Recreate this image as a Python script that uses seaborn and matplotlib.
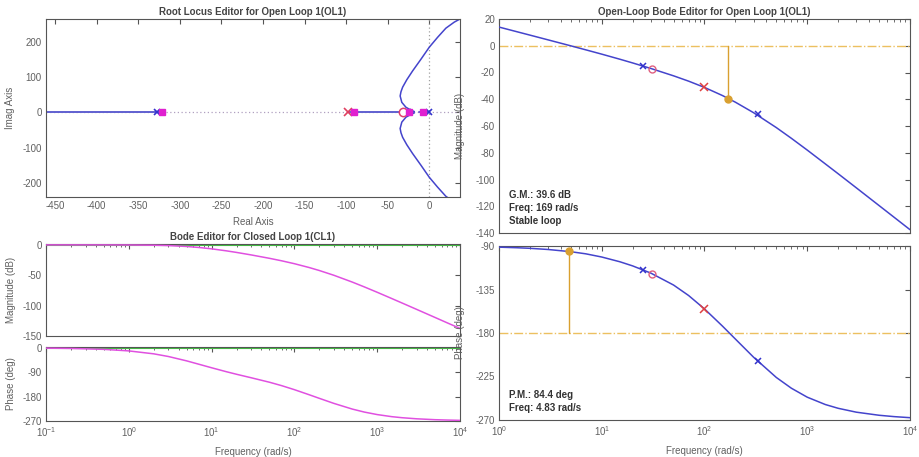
import numpy as np
import pandas as pd
import matplotlib
matplotlib.use("Agg")
import matplotlib.pyplot as plt
import seaborn as sns

# ---------------- data ----------------
# Root locus: open-loop poles / zero, closed-loop poles
ol_poles_plant = [0, -25, -328]
ol_pole_comp = [-98]
ol_zero_comp = [-31]
cl_poles = [-322, -90, -24, -7]

# real-axis locus segments (start, end)
rl_seg_a = [-461, -322]
rl_seg_b = [-98, -18]
rl_seg_c = [-12, 0]

# complex branch (upper half; lower half is its mirror)
branch_re = [-18, -22, -28, -33, -35, -34, -32, -27, -20, -10, 0, 10, 20, 30, 37]
branch_im = [2, 6, 14, 28, 46, 58, 71, 92, 117, 150, 184, 212, 238, 255, 264]

# Closed-loop Bode
cl_freq = [0.1, 0.2, 0.5, 1, 2, 3, 5, 7, 10, 15, 20, 30, 50, 70, 100, 150, 200,
           300, 500, 700, 1000, 1500, 2000, 3000, 5000, 7000, 10000]
cl_mag = [0.0, 0.0, -0.03, -0.14, -0.52, -1.10, -2.58, -4.19, -6.47, -9.73, -12.37,
          -16.46, -22.08, -26.14, -30.94, -37.17, -42.16, -50.02, -61.20, -69.19,
          -78.0, -88.32, -95.72, -106.21, -119.5, -128.3, -137.5]
cl_phase = [-1.2, -2.3, -5.7, -11.4, -22.2, -32.0, -48.2, -60.5, -73.6, -88.0, -97.6,
            -110.4, -127.0, -139.5, -154.4, -172.9, -186.4, -205.1, -226.0, -237.1,
            -246.3, -254.0, -257.9, -261.9, -265.2, -266.5, -267.6]

# Open-loop Bode
ol_freq = [1, 1.5, 2, 3, 5, 7, 10, 15, 20, 30, 50, 70, 100, 150, 200, 300, 500, 700,
           1000, 1500, 2000, 3000, 5000, 7000, 10000]
ol_mag = [13.97, 10.45, 7.95, 4.41, -0.07, -3.06, -6.28, -10.07, -12.86, -16.97,
          -22.49, -26.46, -31.15, -37.28, -42.22, -50.03, -61.19, -69.18, -78.01,
          -88.35, -95.71, -106.20, -119.48, -128.23, -137.52]
ol_phase = [-91.2, -91.8, -92.4, -93.6, -95.9, -98.1, -101.4, -106.3, -110.6, -118.0,
            -130.4, -141.2, -155.1, -173.0, -186.3, -205.0, -226.0, -237.1, -246.4,
            -254.0, -257.9, -261.9, -265.1, -266.5, -267.6]

# markers on open-loop bode
bode_plant_pole_f = [25, 330]
bode_plant_pole_mag = [-15.1, -51.0]
bode_plant_pole_ph = [-114.5, -209.2]
bode_comp_zero_f = [31]
bode_comp_zero_mag = [-17.3]
bode_comp_zero_ph = [-118.7]
bode_comp_pole_f = [100]
bode_comp_pole_mag = [-31.15]
bode_comp_pole_ph = [-155.1]

gm_freq, gm_mag = 169, -39.6
pm_freq, pm_phase = 4.83, -95.6

# ---------------- style ----------------
sns.set_style("white")
plt.rcParams['font.family'] = ['Liberation Sans', 'DejaVu Sans']
plt.rcParams['mathtext.fontset'] = 'custom'
plt.rcParams['mathtext.rm'] = 'Liberation Sans'
plt.rcParams['axes.unicode_minus'] = False

BLUE = "#4444cc"
MAG = "#e050e0"
GREEN = "#44bb44"
ORANGE = "#d9a030"
ORANGE_L = "#ecc060"
TXT = "#606060"
SP = "#555555"

fig = plt.figure(figsize=(9.2, 4.57), dpi=100)
W, H = 920, 457


def add_ax(l, t, r, b):
    return fig.add_axes([l / W, 1 - b / H, (r - l) / W, (b - t) / H])


ax_rl = add_ax(46, 19, 460, 197)
ax_cm = add_ax(46, 244, 460, 336)
ax_cp = add_ax(46, 347, 460, 421)
ax_om = add_ax(499, 19, 910, 233)
ax_op = add_ax(499, 246, 910, 420)


def style(ax):
    for s in ax.spines.values():
        s.set_color(SP)
        s.set_linewidth(0.8)
    ax.tick_params(which='both', direction='in', top=True, right=True,
                   colors=SP, labelcolor=TXT, labelsize=7, pad=3)
    ax.tick_params(which='major', length=3.5)
    ax.tick_params(which='minor', length=2)


for a in [ax_rl, ax_cm, ax_cp, ax_om, ax_op]:
    style(a)

# ---------------- root locus ----------------
ax = ax_rl
ax.axhline(0, color="#b0a0c0", ls=(0, (1, 2)), lw=0.9, zorder=1)
ax.axvline(0, color="#a0a0a0", ls=(0, (1, 2)), lw=0.9, zorder=1)
for seg in (rl_seg_a, rl_seg_b, rl_seg_c):
    sns.lineplot(x=seg, y=[0, 0], ax=ax, color="#6060d0", lw=1.4, estimator=None, sort=False)
sns.lineplot(x=branch_re, y=branch_im, ax=ax, color=BLUE, lw=1.1, estimator=None, sort=False)
sns.lineplot(x=branch_re, y=[-v for v in branch_im], ax=ax, color=BLUE, lw=1.1,
             estimator=None, sort=False)
ax.plot(ol_poles_plant, [0] * len(ol_poles_plant), 'x', color="#3333cc", ms=5, mew=1.2, zorder=4)
ax.plot(ol_pole_comp, [0], 'x', color="#e04060", ms=6, mew=1.2, zorder=4)
ax.plot(ol_zero_comp, [0], 'o', mfc='white', mec="#e04070", ms=6, mew=1.1, zorder=4)
ax.plot(cl_poles, [0] * len(cl_poles), 's', color="#e020d0", ms=4.5, zorder=5)
ax.set_xlim(-461, 37)
ax.set_ylim(-240, 264)
ax.set_xticks(np.arange(-450, 1, 50))
ax.set_yticks([-200, -100, 0, 100, 200])
ax.set_xlabel("Real Axis", fontsize=7, color=TXT, labelpad=4)
ax.set_ylabel("Imag Axis", fontsize=7, color=TXT)
ax.yaxis.set_label_coords(-0.075, 0.5)
ax.set_title("Root Locus Editor for Open Loop 1(OL1)", fontsize=7, fontweight='bold',
             color="#444444", pad=3)

# ---------------- closed-loop bode ----------------
for ax, yv, yt, yl in [(ax_cm, cl_mag, [0, -50, -100, -150], (-150, 1.5)),
                       (ax_cp, cl_phase, [0, -90, -180, -270], (-270, 3))]:
    ax.set_xscale('log')
    ax.axhline(0, color=GREEN, lw=1.5, zorder=2)
    sns.lineplot(x=cl_freq, y=yv, ax=ax, color=MAG, lw=1.1, estimator=None, sort=False, zorder=3)
    ax.set_xlim(0.1, 1e4)
    ax.set_ylim(*yl)
    ax.set_yticks(yt)
ax_cm.tick_params(labelbottom=False)
ax_cm.set_ylabel("Magnitude (dB)", fontsize=7, color=TXT)
ax_cm.yaxis.set_label_coords(-0.072, 0.5)
ax_cp.set_ylabel("Phase (deg)", fontsize=7, color=TXT)
ax_cp.yaxis.set_label_coords(-0.072, 0.5)
ax_cp.set_xlabel("Frequency (rad/s)", fontsize=7, color=TXT, labelpad=6)
ax_cm.set_title("Bode Editor for Closed Loop 1(CL1)", fontsize=7, fontweight='bold',
                color="#444444", pad=3)

# ---------------- open-loop bode ----------------
ax = ax_om
ax.set_xscale('log')
ax.axhline(0, color=ORANGE_L, ls='-.', lw=1.0, zorder=1)
sns.lineplot(x=ol_freq, y=ol_mag, ax=ax, color=BLUE, lw=1.1, estimator=None, sort=False, zorder=3)
ax.plot([gm_freq, gm_freq], [0, gm_mag], color=ORANGE, lw=1.0, zorder=2)
ax.plot([gm_freq], [gm_mag], 'o', color=ORANGE, ms=5, zorder=5)
ax.plot(bode_plant_pole_f, bode_plant_pole_mag, 'x', color="#3333cc", ms=5, mew=1.1, zorder=4)
ax.plot(bode_comp_zero_f, bode_comp_zero_mag, 'o', mfc='none', mec="#e06080", ms=5, mew=1.0, zorder=4)
ax.plot(bode_comp_pole_f, bode_comp_pole_mag, 'x', color="#e04040", ms=5.5, mew=1.1, zorder=4)
ax.set_xlim(1, 1e4)
ax.set_ylim(-140, 20)
ax.set_yticks(np.arange(-140, 21, 20))
ax.tick_params(labelbottom=False)
ax.set_ylabel("Magnitude (dB)", fontsize=7, color=TXT)
ax.yaxis.set_label_coords(-0.082, 0.5)
ax.set_title("Open-Loop Bode Editor for Open Loop 1(OL1)", fontsize=7, fontweight='bold',
             color="#444444", pad=3)
for i, s in enumerate(["G.M.: 39.6 dB", "Freq: 169 rad/s", "Stable loop"]):
    ax.text(0.024, 0.178 - i * 0.061, s, transform=ax.transAxes, fontsize=7,
            color="#333333", va='center', fontweight='semibold')

ax = ax_op
ax.set_xscale('log')
ax.axhline(-180, color=ORANGE_L, ls='-.', lw=1.0, zorder=1)
sns.lineplot(x=ol_freq, y=ol_phase, ax=ax, color=BLUE, lw=1.1, estimator=None, sort=False, zorder=3)
ax.plot([pm_freq, pm_freq], [-180, pm_phase], color=ORANGE, lw=1.0, zorder=2)
ax.plot([pm_freq], [pm_phase], 'o', color=ORANGE, ms=5, zorder=5)
ax.plot(bode_plant_pole_f, bode_plant_pole_ph, 'x', color="#3333cc", ms=5, mew=1.1, zorder=4)
ax.plot(bode_comp_zero_f, bode_comp_zero_ph, 'o', mfc='none', mec="#e06080", ms=5, mew=1.0, zorder=4)
ax.plot(bode_comp_pole_f, bode_comp_pole_ph, 'x', color="#e04040", ms=5.5, mew=1.1, zorder=4)
ax.set_xlim(1, 1e4)
ax.set_ylim(-270, -90)
ax.set_yticks([-270, -225, -180, -135, -90])
ax.set_ylabel("Phase (deg)", fontsize=7, color=TXT)
ax.yaxis.set_label_coords(-0.082, 0.5)
ax.set_xlabel("Frequency (rad/s)", fontsize=7, color=TXT, labelpad=6)
for i, s in enumerate(["P.M.: 84.4 deg", "Freq: 4.83 rad/s"]):
    ax.text(0.024, 0.144 - i * 0.075, s, transform=ax.transAxes, fontsize=7,
            color="#333333", va='center', fontweight='semibold')

for a in [ax_rl, ax_cm, ax_cp, ax_om, ax_op]:
    if a.get_legend() is not None:
        a.get_legend().remove()

fig.savefig("out.png", dpi=100, facecolor='white')
